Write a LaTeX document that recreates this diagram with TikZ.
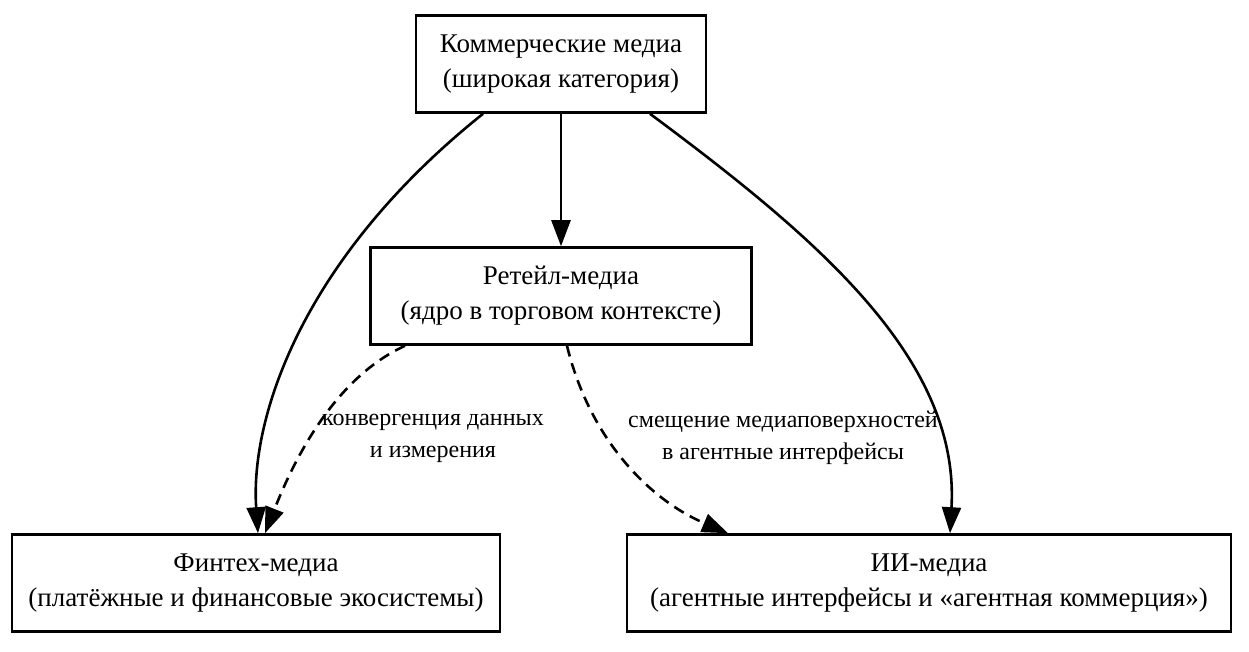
\documentclass[tikz,border=0pt]{standalone}
\usepackage{fontspec}
\setmainfont{Liberation Serif}
\usetikzlibrary{arrows.meta}
\begin{document}
\begin{tikzpicture}[x=1pt,y=-1pt,
  box/.style={draw,line width=2.6pt,minimum height=97pt,align=center,font=\fontsize{27}{35}\selectfont,inner sep=0pt},
  arr/.style={line width=2.6pt,-{Triangle[length=26pt,width=19pt]}},
  lab/.style={align=center,font=\fontsize{24}{32}\selectfont}]
\useasboundingbox[fill=white] (0,0) rectangle (1249,651);
\node[box,minimum width=290pt] (top) at (561,64) {Коммерческие медиа\\(широкая категория)};
\node[box,minimum width=381pt] (ret) at (561,296) {Ретейл-медиа\\(ядро в торговом контексте)};
\node[box,minimum width=488pt] (fin) at (256,583) {Финтех-медиа\\(платёжные и финансовые экосистемы)};
\node[box,minimum width=604pt] (ai) at (929,583) {ИИ-медиа\\(агентные интерфейсы и «агентная коммерция»)};
\draw[arr] (top) -- (ret);
\draw[arr] (top.south west -| 483,0) .. controls (300,260) and (250,420) .. (fin.north -| 258,0);
\draw[arr] (top.south west -| 650,0) .. controls (820,240) and (960,360) .. (ai.north -| 950,0);
\draw[arr,dashed,dash pattern=on 11pt off 7pt] (ret.south west -| 405,0) .. controls (330,380) and (290,470) .. (fin.north -| 265,0);
\draw[arr,dashed,dash pattern=on 11pt off 7pt] (ret.south west -| 567,0) .. controls (590,440) and (650,500) .. (ai.north -| 728,0);
\node[lab] (l1) at (433,438) {конвергенция данных\\и измерения};
\node[lab] (l2) at (783,438) {смещение медиаповерхностей\\в агентные интерфейсы};
\end{tikzpicture}
\end{document}
